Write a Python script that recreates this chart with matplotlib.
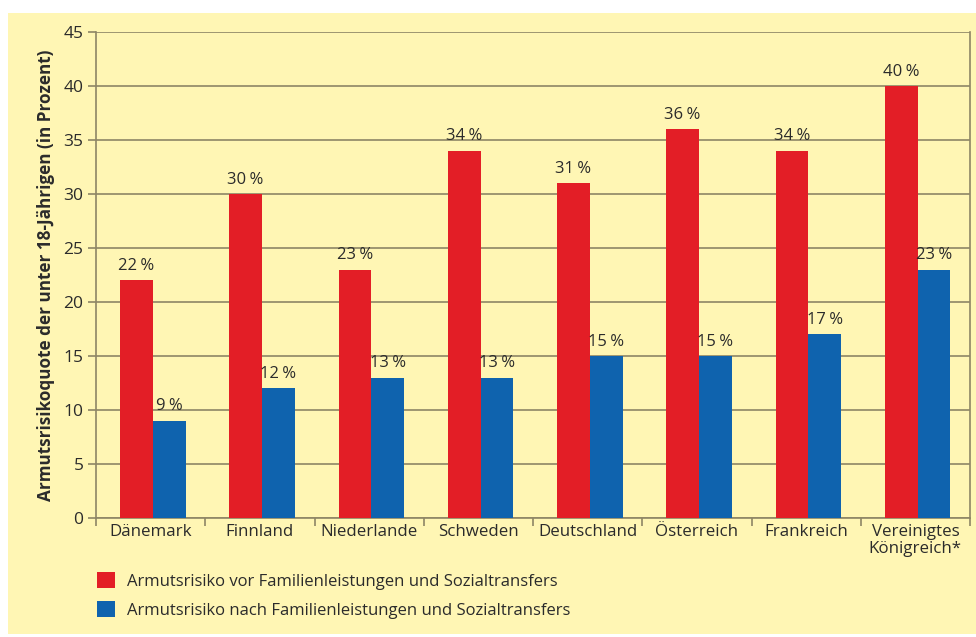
import matplotlib
matplotlib.use("Agg")
import matplotlib.pyplot as plt
import numpy as np
from matplotlib.patches import Rectangle

countries = ["Dänemark", "Finnland", "Niederlande", "Schweden", "Deutschland",
             "Österreich", "Frankreich", "Vereinigtes\nKönigreich*"]
vor = [22, 30, 23, 34, 31, 36, 34, 40]
nach = [9, 12, 13, 13, 15, 15, 17, 23]
yticks = [0, 5, 10, 15, 20, 25, 30, 35, 40, 45]
label_vor = "Armutsrisiko vor Familienleistungen und Sozialtransfers"
label_nach = "Armutsrisiko nach Familienleistungen und Sozialtransfers"
ylabel = "Armutsrisikoquote der unter 18-Jährigen (in Prozent)"

RED = "#E31E26"
BLUE = "#0F63AE"
BG = "#FFF6B4"
GRID = "#8E8665"
TXT = "#2B2B2B"

plt.rcParams['font.family'] = ['Open Sans', 'DejaVu Sans']

fig = plt.figure(figsize=(9.76, 6.37), dpi=100)
fig.patch.set_facecolor("white")
fig.patches.append(Rectangle((8/976, 3/637), 1 - 8/976, (634 - 13)/637,
                             transform=fig.transFigure, facecolor=BG,
                             edgecolor="none", zorder=-10))

ax = fig.add_axes([96/976, 1 - 518/637, (970 - 96)/976, (518 - 32)/637])
ax.set_facecolor("none")

x = np.arange(len(countries))
w = 0.3
b1 = ax.bar(x - w/2 + 0.02, vor, w, color=RED, zorder=3, label=label_vor)
b2 = ax.bar(x + w/2 + 0.02, nach, w, color=BLUE, zorder=3, label=label_nach)

for bars, vals in ((b1, vor), (b2, nach)):
    for r, v in zip(bars, vals):
        ax.text(r.get_x() + r.get_width()/2, v + 0.6, f"{v}\u202f%", ha="center",
                va="bottom", fontsize=12, color=TXT)

ax.set_xlim(-0.5, len(countries) - 0.5)
ax.set_ylim(0, 45)
ax.set_yticks(yticks)
ax.yaxis.grid(True, color=GRID, linewidth=1.2, zorder=1)
ax.set_axisbelow(True)

ax.set_xticks(x)
ax.set_xticklabels(countries, fontsize=12.2, color=TXT, linespacing=1.1)
ax.tick_params(axis="x", length=0, pad=4)
ax.set_xticks(np.arange(-0.5, len(countries)), minor=True)
ax.tick_params(axis="x", which="minor", length=6, color=GRID, width=1.2)
ax.tick_params(axis="y", labelsize=12.5, colors=TXT, length=6, color=GRID, width=1.2, pad=3)

for s in ("top",):
    ax.spines[s].set_visible(False)
for s in ("left", "bottom", "right"):
    ax.spines[s].set_color(GRID)
    ax.spines[s].set_linewidth(1.2)

ax.set_ylabel(ylabel, fontsize=12.3, fontweight="bold", color=TXT, labelpad=6)

fig.legend(handles=[b1, b2], labels=[label_vor, label_nach],
           loc="upper left", bbox_to_anchor=(82/976, 1 - 557/637),
           frameon=False, fontsize=12, handlelength=1.1, handleheight=1.1,
           handletextpad=0.7, labelspacing=0.7, labelcolor=TXT)

fig.savefig("out.png", dpi=100)
